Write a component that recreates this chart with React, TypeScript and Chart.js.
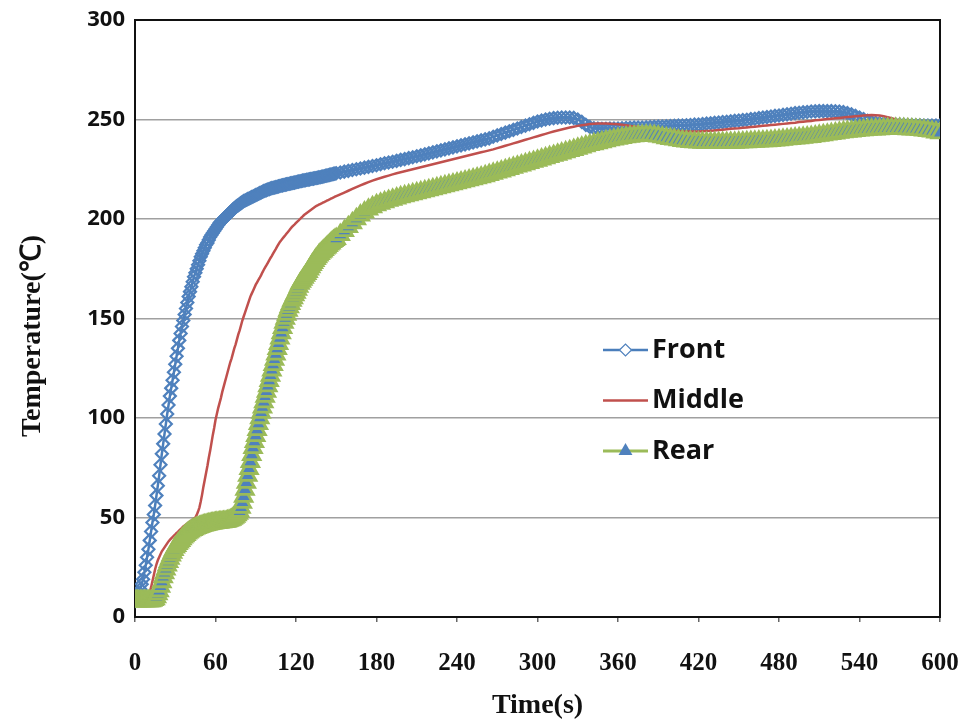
import React, { useEffect, useRef } from 'react';
import { Chart, registerables } from 'chart.js';

Chart.register(...registerables);

// Sampling grid: every 1 s from 0 to 150 s, then every 3 s from 153 to 600 s
const EARLY_END = 150;
const EARLY_STEP = 1;
const LATE_START = 153;
const LATE_END = 600;
const LATE_STEP = 3;

// Temperatures (°C)
const FRONT_EARLY = [
  8, 9, 10.5, 12, 14, 16.5, 19, 22.5, 26, 30,
  34, 38.5, 43, 47.5, 51.5, 56, 61, 66, 71, 76.5,
  82, 87, 92, 97, 102, 106.5, 111, 115, 119, 123,
  127, 131, 135, 139, 142.5, 146, 149, 152, 155, 158,
  161, 163.5, 166, 168.5, 171, 173, 175, 177, 179, 181,
  182.5, 184, 185.5, 187, 188, 189.5, 191, 192, 193, 194,
  195, 196, 197, 198, 198.7, 199.4, 200, 200.7, 201.4, 202,
  202.7, 203.4, 204, 204.7, 205.4, 206, 206.5, 207, 207.5, 208,
  208.5, 209, 209.3, 209.7, 210, 210.3, 210.7, 211, 211.3, 211.7,
  212, 212.3, 212.7, 213, 213.3, 213.7, 214, 214.3, 214.5, 214.8,
  215, 215.3, 215.5, 215.7, 215.8, 216, 216.2, 216.4, 216.6, 216.8,
  216.9, 217.1, 217.3, 217.4, 217.6, 217.7, 217.9, 218, 218.2, 218.3,
  218.5, 218.7, 218.8, 219, 219.1, 219.3, 219.4, 219.5, 219.7, 219.8,
  219.9, 220.1, 220.2, 220.3, 220.5, 220.6, 220.7, 220.9, 221, 221.2,
  221.3, 221.5, 221.7, 221.8, 222, 222.2, 222.3, 222.5, 222.7, 222.8,
  223,
];
const FRONT_LATE = [
  223.4, 223.8, 224.2, 224.6, 225, 225.4, 225.8, 226.2, 226.6,
  227, 227.5, 228, 228.4, 228.8, 229.2, 229.7, 230.1, 230.6, 231,
  231.5, 232, 232.5, 233, 233.5, 234, 234.5, 235, 235.5, 236,
  236.5, 237, 237.5, 238, 238.5, 239, 239.5, 240, 240.5, 241.3,
  242, 242.7, 243.4, 244.1, 244.8, 245.5, 246.2, 246.9, 247.6, 248.3,
  249, 249.5, 250, 250.4, 250.7, 250.9, 251, 251, 251, 250.8,
  250, 248.8, 247.3, 246.2, 245.6, 245.4, 245.3, 245.3, 245.4, 245.5,
  245.5, 245.6, 245.7, 245.8, 245.9, 246, 246, 246.1, 246.2, 246.3,
  246.4, 246.5, 246.6, 246.7, 246.8, 246.9, 247, 247.1, 247.2, 247.4,
  247.5, 247.7, 247.9, 248.1, 248.3, 248.5, 248.7, 248.9, 249.1, 249.3,
  249.5, 249.7, 249.9, 250.2, 250.4, 250.7, 251, 251.2, 251.5, 251.8,
  252, 252.3, 252.6, 252.9, 253.2, 253.4, 253.6, 253.8, 254, 254.1,
  254.2, 254.2, 254.2, 254.2, 254.1, 254, 253.7, 253.2, 252.6, 251.8,
  251, 250.2, 249.4, 248.8, 248.4, 248.1, 247.9, 247.7, 247.6, 247.5,
  247.4, 247.3, 247.2, 247.2, 247.1, 247.1, 247, 247, 247, 247,
  247,
];

const MIDDLE_EARLY = [
  8, 8, 8, 8, 8, 8, 8, 8, 8.5, 9,
  10.5, 12.5, 15, 18, 21, 24, 26.5, 28.5, 30, 31.5,
  33, 34, 35, 36, 37, 38, 38.8, 39.5, 40.2, 40.9,
  41.5, 42.2, 42.8, 43.5, 44.2, 44.8, 45.5, 46, 46.5, 47,
  47.5, 48, 48.5, 49, 49.5, 50, 51.3, 53, 55, 58,
  61.5, 65.5, 69, 72.5, 76, 80, 83.5, 87.5, 91.5, 95,
  99, 102, 105, 107.5, 110, 113, 115.5, 118, 120.5, 123,
  125.5, 128, 130, 132.5, 135, 137, 139.5, 142, 144, 146.5,
  149, 151, 153, 155, 157, 159, 161, 162.5, 164, 165.5,
  167, 168.2, 169.4, 170.5, 171.8, 173.2, 174.5, 175.7, 176.8, 178,
  179.2, 180.4, 181.5, 182.7, 183.9, 185, 186.2, 187.4, 188.5, 189.3,
  190.2, 191, 191.8, 192.7, 193.5, 194.3, 195.2, 196, 196.7, 197.3,
  198, 198.7, 199.3, 200, 200.7, 201.3, 202, 202.5, 203, 203.5,
  204, 204.5, 205, 205.5, 206, 206.5, 206.8, 207.2, 207.5, 207.8,
  208.2, 208.5, 208.8, 209.2, 209.5, 209.8, 210.2, 210.5, 210.8, 211.2,
  211.5,
];
const MIDDLE_LATE = [
  212.4, 213.3, 214.2, 215.1, 216, 216.9, 217.7, 218.5, 219.3,
  220, 220.6, 221.2, 221.8, 222.4, 223, 223.5, 224, 224.5, 225,
  225.5, 226, 226.5, 227, 227.5, 228, 228.5, 229, 229.5, 230,
  230.5, 231, 231.5, 232, 232.5, 233, 233.5, 234, 234.5, 235,
  235.6, 236.2, 236.8, 237.4, 238, 238.6, 239.2, 239.8, 240.4, 241,
  241.6, 242.2, 242.8, 243.4, 244, 244.5, 245, 245.5, 246, 246.4,
  246.8, 247.1, 247.4, 247.7, 247.9, 248, 248, 248, 247.9, 247.8,
  247.6, 247.4, 247.1, 246.8, 246.5, 246.2, 245.9, 245.6, 245.3, 245.1,
  244.9, 244.7, 244.5, 244.3, 244.2, 244.1, 244, 244, 244, 244,
  244, 244.1, 244.2, 244.3, 244.5, 244.7, 244.9, 245.1, 245.3, 245.5,
  245.6, 245.8, 246, 246.2, 246.4, 246.6, 246.8, 247, 247.2, 247.4,
  247.6, 247.8, 248, 248.2, 248.4, 248.7, 248.9, 249.1, 249.3, 249.6,
  249.8, 250, 250.2, 250.4, 250.6, 250.8, 251, 251.2, 251.4, 251.6,
  251.8, 252, 252.1, 252.2, 252.1, 252, 251.7, 251.2, 250.6, 250,
  249.4, 248.9, 248.4, 248, 247.6, 247.3, 247, 246.8, 246.6, 246.5,
  246.4,
];

const REAR_EARLY = [
  8, 8, 8, 8, 8, 8, 8, 8, 8, 8,
  8, 8, 8, 8.3, 8.6, 9, 10, 11.5, 13, 15.3,
  17.6, 20, 22, 24, 26, 27.7, 29.3, 31, 32.3, 33.7,
  35, 35.8, 36.7, 37.5, 38.3, 39.2, 40, 40.7, 41.3, 42,
  42.5, 43, 43.5, 43.8, 44.2, 44.5, 44.8, 45, 45.3, 45.5,
  45.8, 46, 46.2, 46.3, 46.5, 46.7, 46.8, 47, 47.1, 47.2,
  47.3, 47.4, 47.5, 47.6, 47.7, 47.7, 47.8, 47.9, 48, 48.2,
  48.4, 48.7, 49, 49.5, 50, 50.5, 51.2, 52, 53, 55,
  57.5, 60.5, 64, 67.5, 71, 74.5, 78, 81.5, 85, 88,
  91, 94, 97, 100, 102.7, 105.3, 108, 110.7, 113.3, 116,
  118.7, 121.3, 124, 126.7, 129.3, 132, 134.7, 137.3, 140, 142.7,
  145.3, 148, 150, 152, 154, 155.7, 157.3, 159, 160.3, 161.7,
  163, 164.5, 166, 167.5, 168.5, 169.5, 170.5, 171.5, 172.5, 173.5,
  174.7, 175.8, 177, 178, 179, 180, 180.8, 181.7, 182.5, 183.2,
  183.8, 184.5, 185.2, 185.8, 186.5, 187.2, 187.8, 188.5, 189, 189.5,
  190,
];
const REAR_LATE = [
  192, 194, 196, 198, 200, 201.8, 203.4, 204.8, 206,
  207, 207.8, 208.5, 209.2, 209.8, 210.4, 211, 211.5, 212, 212.5,
  213, 213.5, 214, 214.5, 215, 215.5, 216, 216.5, 217, 217.5,
  218, 218.5, 219, 219.5, 220, 220.5, 221, 221.6, 222.2, 222.8,
  223.4, 224, 224.6, 225.2, 225.8, 226.4, 227, 227.6, 228.2, 228.8,
  229.4, 230, 230.6, 231.2, 231.8, 232.4, 233, 233.6, 234.2, 234.8,
  235.4, 236, 236.6, 237.2, 237.7, 238.2, 238.7, 239.2, 239.6, 240,
  240.4, 240.8, 241.1, 241.4, 241.6, 241.8, 241.9, 242, 242, 241.8,
  241.5, 241.1, 240.7, 240.3, 240, 239.6, 239.3, 239, 238.8, 238.6,
  238.5, 238.4, 238.3, 238.3, 238.3, 238.3, 238.3, 238.3, 238.4, 238.4,
  238.5, 238.6, 238.7, 238.8, 238.9, 239, 239.1, 239.2, 239.3, 239.5,
  239.7, 239.9, 240.1, 240.3, 240.5, 240.7, 240.9, 241.1, 241.3, 241.6,
  241.9, 242.2, 242.5, 242.8, 243.1, 243.4, 243.7, 243.9, 244.1, 244.3,
  244.5, 244.7, 244.9, 245, 245.1, 245.2, 245.3, 245.4, 245.4, 245.4,
  245.4, 245.3, 245.2, 245.1, 245, 244.8, 244.6, 244.3, 244, 243.6,
  243.2,
];

const SERIES_NAMES = ['Front', 'Middle', 'Rear'];
const X_MIN = 0;
const X_MAX = 600;
const X_STEP = 60;
const Y_MIN = 0;
const Y_MAX = 300;
const Y_STEP = 50;
const X_TITLE = 'Time(s)';
const Y_TITLE = 'Temperature(\u2103)';

// styles / layout
const W = 965;
const H = 726;
const BLUE_LINE = '#4A7EBB';
const BLUE_MARK = '#4F81BD';
const RED = '#C0504D';
const GREEN = '#9BBB59';
const LEGEND_LEFT = 468;
const LEGEND_LINE_LEN = 45;
const LEGEND_TOP = 330;
const LEGEND_ROW = 50.5;
const SERIF = '"Liberation Serif", "Times New Roman", serif';

const range = (a: number, b: number, s: number) => {
  const out: number[] = [];
  for (let t = a; t <= b + 1e-9; t += s) out.push(t);
  return out;
};
const TIMES = [...range(0, EARLY_END, EARLY_STEP), ...range(LATE_START, LATE_END, LATE_STEP)];
const toPoints = (early: number[], late: number[]) =>
  [...early, ...late].map((v, i) => ({ x: TIMES[i], y: v }));

const chartPlugin = {
  id: 'frameLegendTitle',
  beforeDatasetsDraw(chart: any) {
    const { ctx, chartArea } = chart;
    ctx.save();
    ctx.strokeStyle = '#111';
    ctx.lineWidth = 2;
    ctx.strokeRect(chartArea.left, chartArea.top, chartArea.right - chartArea.left, chartArea.bottom - chartArea.top);
    ctx.restore();
  },
  afterDraw(chart: any) {
    const { ctx, chartArea } = chart;
    chart.data.datasets.forEach((ds: any, i: number) => {
      const y = chartArea.top + LEGEND_TOP + i * LEGEND_ROW;
      const x0 = chartArea.left + LEGEND_LEFT;
      const x1 = x0 + LEGEND_LINE_LEN;
      const cx = (x0 + x1) / 2;
      ctx.save();
      ctx.strokeStyle = ds.borderColor;
      ctx.lineWidth = ds.borderWidth;
      ctx.beginPath();
      ctx.moveTo(x0, y);
      ctx.lineTo(x1, y);
      ctx.stroke();
      if (ds.pointRadius > 0) {
        ctx.beginPath();
        if (ds.pointStyle === 'rectRot') {
          const r = ds.pointRadius;
          ctx.moveTo(cx - r, y);
          ctx.lineTo(cx, y - r);
          ctx.lineTo(cx + r, y);
          ctx.lineTo(cx, y + r);
          ctx.closePath();
          ctx.fillStyle = '#fff';
          ctx.fill();
          ctx.strokeStyle = ds.pointBorderColor;
          ctx.lineWidth = 1.2;
          ctx.stroke();
        } else {
          const r = 8;
          ctx.moveTo(cx, y - r);
          ctx.lineTo(cx + r * 0.866, y + r * 0.5);
          ctx.lineTo(cx - r * 0.866, y + r * 0.5);
          ctx.closePath();
          ctx.fillStyle = ds.pointBackgroundColor;
          ctx.fill();
        }
      }
      ctx.fillStyle = '#111';
      ctx.font = 'bold 27px "Open Sans", sans-serif';
      ctx.textAlign = 'left';
      ctx.textBaseline = 'middle';
      ctx.fillText(ds.label, x1 + 4, y);
      ctx.restore();
    });
    ctx.save();
    ctx.translate(33, 336);
    ctx.rotate(-Math.PI / 2);
    ctx.fillStyle = '#111';
    ctx.font = 'bold 28px ' + SERIF;
    ctx.textAlign = 'center';
    ctx.textBaseline = 'middle';
    ctx.fillText(Y_TITLE, 0, 0);
    ctx.restore();
  },
};

export default function App() {
  const ref = useRef<HTMLCanvasElement | null>(null);

  useEffect(() => {
    document.body.style.margin = '0';
    const canvas = ref.current;
    if (!canvas) return;
    const chart = new Chart(canvas, {
      type: 'line',
      data: {
        datasets: [
          {
            label: SERIES_NAMES[0],
            data: toPoints(FRONT_EARLY, FRONT_LATE),
            borderColor: BLUE_LINE,
            borderWidth: 2.5,
            pointStyle: 'rectRot',
            pointRadius: 6,
            pointBorderColor: BLUE_MARK,
            pointBackgroundColor: 'rgba(0,0,0,0)',
            pointBorderWidth: 2.2,
            tension: 0,
            order: 3,
          },
          {
            label: SERIES_NAMES[1],
            data: toPoints(MIDDLE_EARLY, MIDDLE_LATE),
            borderColor: RED,
            borderWidth: 2.5,
            pointRadius: 0,
            tension: 0,
            order: 2,
          },
          {
            label: SERIES_NAMES[2],
            data: toPoints(REAR_EARLY, REAR_LATE),
            borderColor: GREEN,
            borderWidth: 3,
            pointStyle: 'triangle',
            pointRadius: 9.5,
            pointBorderColor: GREEN,
            pointBackgroundColor: BLUE_MARK,
            pointBorderWidth: 2.8,
            tension: 0,
            order: 1,
          },
        ],
      },
      options: {
        animation: false,
        responsive: false,
        layout: { padding: { left: 0, right: 25, top: 20, bottom: 0 } },
        plugins: {
          legend: { display: false },
          tooltip: { enabled: false },
        },
        scales: {
          x: {
            type: 'linear',
            min: X_MIN,
            max: X_MAX,
            ticks: {
              stepSize: X_STEP,
              padding: 27,
              color: '#111',
              font: { family: SERIF, size: 25, weight: 'bold' },
            },
            grid: { drawOnChartArea: false, drawTicks: true, tickLength: 5, color: '#666', lineWidth: 1.5 },
            border: { display: true, color: '#222', width: 2 },
            title: {
              display: true,
              text: X_TITLE,
              color: '#111',
              padding: { top: 0, bottom: 3 },
              font: { family: SERIF, size: 28, weight: 'bold' },
            },
            afterFit: (s: any) => {
              s.height = 109;
              s.paddingLeft = 0;
              s.paddingRight = 0;
            },
          },
          y: {
            type: 'linear',
            min: Y_MIN,
            max: Y_MAX,
            ticks: {
              stepSize: Y_STEP,
              padding: 10,
              color: '#111',
              font: { family: '"Open Sans", sans-serif', size: 22, weight: 'bold' },
            },
            grid: { drawTicks: false, color: '#A0A0A0', lineWidth: 1.5 },
            border: { display: true, color: '#222', width: 2 },
            afterFit: (s: any) => {
              s.width = 135;
              s.paddingTop = 0;
              s.paddingBottom = 0;
            },
          },
        },
      },
      plugins: [chartPlugin],
    } as any);
    return () => chart.destroy();
  }, []);

  return (
    <div style={{ width: W, height: H, background: '#fff' }}>
      <canvas ref={ref} width={W} height={H} />
    </div>
  );
}
